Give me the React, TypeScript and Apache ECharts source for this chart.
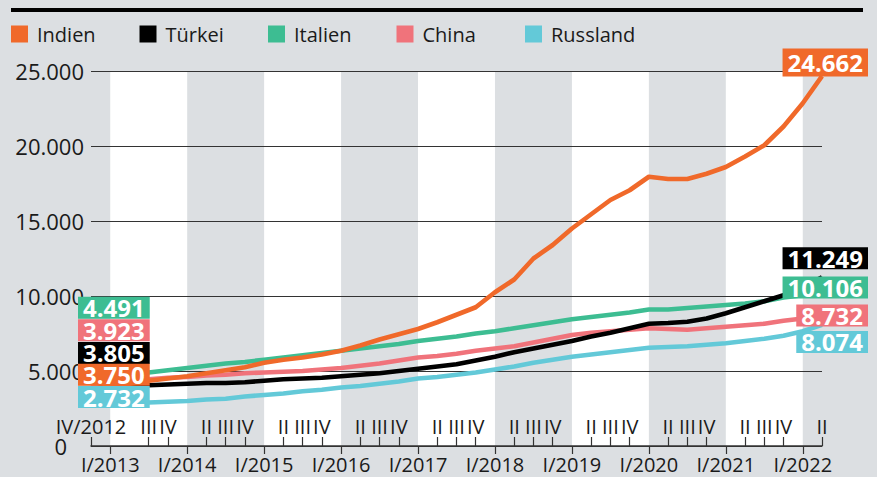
import React, { useEffect, useRef } from 'react';
import * as echarts from 'echarts';

const quarters = [
  'IV/2012',
  'I/2013', 'II/2013', 'III/2013', 'IV/2013',
  'I/2014', 'II/2014', 'III/2014', 'IV/2014',
  'I/2015', 'II/2015', 'III/2015', 'IV/2015',
  'I/2016', 'II/2016', 'III/2016', 'IV/2016',
  'I/2017', 'II/2017', 'III/2017', 'IV/2017',
  'I/2018', 'II/2018', 'III/2018', 'IV/2018',
  'I/2019', 'II/2019', 'III/2019', 'IV/2019',
  'I/2020', 'II/2020', 'III/2020', 'IV/2020',
  'I/2021', 'II/2021', 'III/2021', 'IV/2021',
  'I/2022', 'II/2022',
];

const indien = [3750, 4000, 4150, 4350, 4500, 4650, 4850, 5050, 5250, 5550, 5750, 5900, 6100, 6350, 6700, 7100, 7450, 7800, 8250, 8750, 9250, 10250, 11100, 12500, 13400, 14500, 15450, 16400, 17050, 17950, 17800, 17800, 18150, 18600, 19300, 20050, 21300, 22850, 24662];
const tuerkei = [3805, 3950, 4000, 4050, 4100, 4150, 4200, 4200, 4250, 4350, 4450, 4500, 4550, 4650, 4750, 4850, 5000, 5150, 5300, 5450, 5700, 5950, 6250, 6500, 6750, 7000, 7300, 7550, 7850, 8150, 8200, 8280, 8500, 8850, 9250, 9650, 10050, 10600, 11249];
const italien = [4491, 4650, 4800, 4900, 5050, 5200, 5350, 5500, 5600, 5750, 5900, 6050, 6200, 6350, 6500, 6650, 6800, 7000, 7150, 7300, 7500, 7650, 7850, 8050, 8250, 8450, 8600, 8750, 8900, 9100, 9100, 9200, 9300, 9400, 9500, 9650, 9900, 10050, 10106];
const china = [3923, 4200, 4350, 4450, 4550, 4600, 4700, 4750, 4850, 4900, 4950, 5000, 5100, 5200, 5350, 5500, 5700, 5900, 6000, 6150, 6350, 6500, 6650, 6900, 7150, 7400, 7550, 7650, 7750, 7850, 7800, 7750, 7850, 7950, 8050, 8150, 8350, 8500, 8732];
const russland = [2732, 2800, 2850, 2900, 2950, 3000, 3100, 3150, 3300, 3400, 3500, 3650, 3750, 3900, 4000, 4150, 4300, 4500, 4600, 4750, 4900, 5100, 5300, 5550, 5750, 5950, 6100, 6250, 6400, 6550, 6600, 6650, 6750, 6850, 7000, 7150, 7350, 7650, 8074];

const legendOrder = ['Indien', 'Türkei', 'Italien', 'China', 'Russland'];

const FONT = "'Open Sans', 'Noto Sans', sans-serif";
const BG = '#dcdfe2';
const TEXT = '#1a1a1a';

function fmt(n: number): string {
  return String(n).replace(/\B(?=(\d{3})+(?!\d))/g, '.');
}

type Def = { name: string; data: number[]; color: string; startDy: number; endDy: number; endPad?: number[] };

const defs: Def[] = [
  { name: 'Russland', data: russland, color: '#63c9d8', startDy: -8, endDy: 17 },
  { name: 'China', data: china, color: '#f0737b', startDy: -57, endDy: 0.5 },
  { name: 'Italien', data: italien, color: '#3dbd92', startDy: -71, endDy: -7 },
  { name: 'Türkei', data: tuerkei, color: '#000000', startDy: -36, endDy: -19 },
  { name: 'Indien', data: indien, color: '#f0692a', startDy: -15, endDy: -13.5, endPad: [3, 5, 3, 5] },
];

export default function App() {
  const ref = useRef<HTMLDivElement>(null);

  useEffect(() => {
    const chart = echarts.init(ref.current!, null, { renderer: 'svg' });
    const last = quarters.length - 1;

    const bandData: any[] = [];
    const yearStarts = quarters.map((q, i) => ({ q, i })).filter((o) => o.q.startsWith('I/'));
    yearStarts.forEach((o, k) => {
      const yr = parseInt(o.q.split('/')[1], 10);
      if (yr % 2 === 1 && k + 1 < yearStarts.length) {
        bandData.push([{ xAxis: o.q }, { xAxis: yearStarts[k + 1].q }]);
      }
    });

    const lineSeries = defs.map((d) => ({
      name: d.name,
      type: 'line',
      xAxisIndex: 0,
      yAxisIndex: 0,
      data: d.data,
      color: d.color,
      smooth: false,
      showSymbol: false,
      itemStyle: { color: d.color },
      lineStyle: { color: d.color, width: 4.6, join: 'round' },
      emphasis: { disabled: true },
      z: 2,
    }));

    const labelSeries = defs.map((d) => ({
      name: d.name + '_labels',
      type: 'scatter',
      xAxisIndex: 0,
      yAxisIndex: 0,
      data: [
        { value: [quarters[0], d.data[0]], label: { padding: [0, 5, 0, 5] } },
        { value: [quarters[last], d.data[last]], label: { padding: d.endPad || [0, 5, 0, 5] } },
      ],
      symbol: 'circle',
      symbolSize: 1,
      itemStyle: { color: d.color, opacity: 1 },
      silent: true,
      z: 10,
      label: {
        show: true,
        formatter: (p: any) => fmt(p.value[1]),
        color: '#ffffff',
        backgroundColor: d.color,
        opacity: 1,
        fontFamily: FONT,
        fontWeight: 'bold',
        fontSize: 24,
        lineHeight: 22,
        padding: [0, 5, 0, 5],
      },
      labelLayout: (p: any) => {
        const cx = p.rect.x + p.rect.width / 2;
        const cy = p.rect.y + p.rect.height / 2;
        if (p.dataIndex === 0) {
          return { x: cx - 13, y: cy + d.startDy, align: 'left', verticalAlign: 'middle' };
        }
        return { x: cx + 46, y: cy + d.endDy, align: 'right', verticalAlign: 'middle' };
      },
      emphasis: { disabled: true },
    }));

    const option: any = {
      animation: false,
      backgroundColor: BG,
      textStyle: { fontFamily: FONT },
      grid: { left: 91, right: 55, top: 71, bottom: 31, containLabel: false },
      graphic: [
        { type: 'rect', left: 11, top: 8, shape: { width: 852, height: 4 }, style: { fill: '#000' } },
      ],
      legend: legendOrder.map((n, i) => ({
        data: [n],
        left: 11 + i * 128.5,
        top: 24,
        padding: 0,
        icon: 'rect',
        itemWidth: 17,
        itemHeight: 17,
        itemGap: 0,
        selectedMode: false,
        textStyle: { fontSize: 20, color: TEXT, fontFamily: FONT, padding: [0, 0, 0, 4] },
      })),
      xAxis: [
        {
          type: 'category',
          data: quarters,
          boundaryGap: false,
          position: 'bottom',
          axisLine: { show: true, lineStyle: { color: '#333', width: 1.5 } },
          axisTick: {
            show: true,
            length: 8,
            interval: (i: number, v: string) => v.startsWith('I/'),
            lineStyle: { color: '#333', width: 1.2 },
          },
          axisLabel: {
            interval: (i: number, v: string) => v.startsWith('I/'),
            fontSize: 20,
            color: TEXT,
            fontFamily: FONT,
            margin: 8,
          },
          splitLine: { show: false },
        },
        {
          type: 'category',
          data: quarters,
          boundaryGap: false,
          position: 'bottom',
          axisLine: { show: false },
          axisTick: {
            show: true,
            inside: true,
            length: 9,
            interval: (i: number, v: string) => !v.startsWith('I/'),
            lineStyle: { color: '#333', width: 1.2 },
          },
          axisLabel: {
            inside: true,
            margin: 10,
            showMinLabel: true,
            showMaxLabel: true,
            interval: (i: number, v: string) => !v.startsWith('I/'),
            formatter: (v: string, i: number) => (i === 0 ? v : v.split('/')[0]),
            fontSize: 20,
            color: TEXT,
            fontFamily: FONT,
          },
          splitLine: { show: false },
        },
      ],
      yAxis: {
        type: 'value',
        min: 0,
        max: 25000,
        interval: 5000,
        axisLine: { show: false },
        axisTick: { show: false },
        splitLine: { show: true, lineStyle: { color: '#333', width: 1 } },
        axisLabel: {
          margin: 7,
          fontSize: 22,
          color: TEXT,
          fontFamily: FONT,
          showMinLabel: true,
          formatter: (v: number) => (v === 0 ? '{z|0}' : fmt(v)),
          rich: {
            z: { fontSize: 22, color: TEXT, fontFamily: FONT, padding: [0, 17, 0, 0] },
          },
        },
      },
      series: [
        {
          name: '_bands',
          type: 'line',
          data: quarters.map(() => null),
          showSymbol: false,
          silent: true,
          z: -1,
          lineStyle: { width: 0 },
          markArea: {
            silent: true,
            z: -1,
            itemStyle: { color: '#ffffff' },
            data: bandData,
          },
        },
        ...lineSeries,
        ...labelSeries,
      ],
    };

    chart.setOption(option);
    return () => chart.dispose();
  }, []);

  return <div ref={ref} style={{ position: 'absolute', left: 0, top: 0, width: 877, height: 477 }} />;
}
